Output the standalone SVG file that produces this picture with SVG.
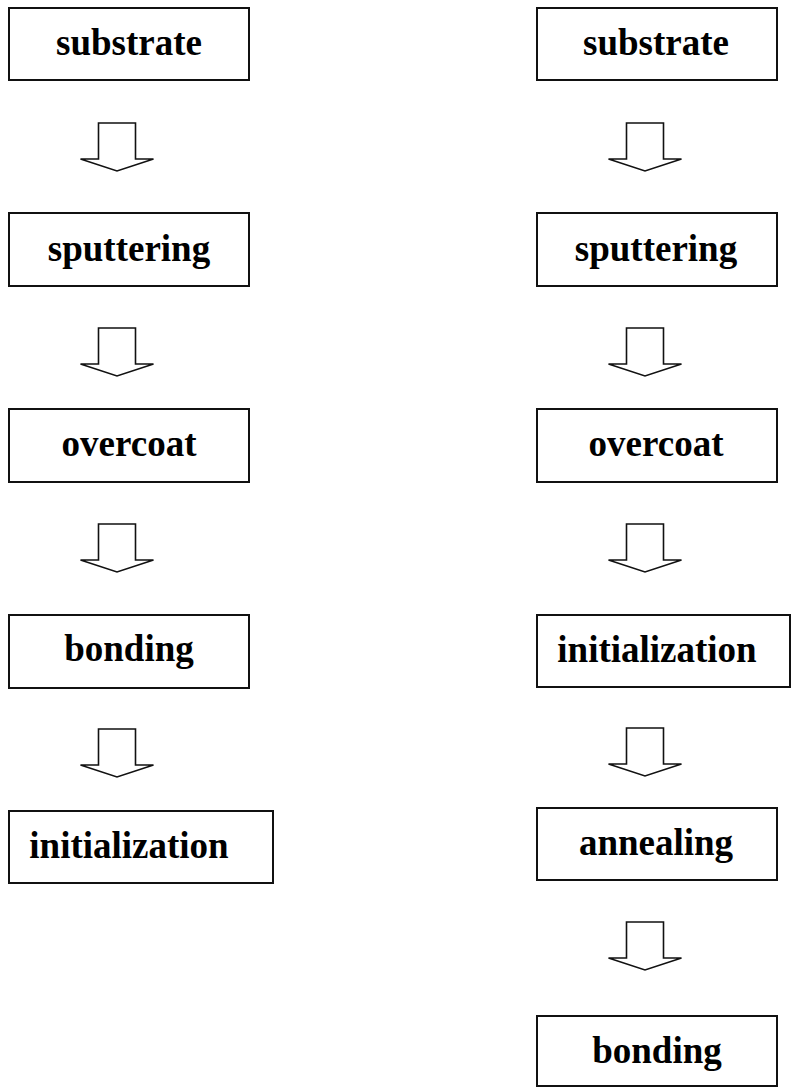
<svg xmlns="http://www.w3.org/2000/svg" xmlns:xlink="http://www.w3.org/1999/xlink" width="791" height="1088" viewBox="0 0 791 1088">
<style>
.box{fill:#fff;stroke:#111;stroke-width:2}
.lbl{font-family:"Liberation Serif","Times New Roman",serif;font-weight:bold;font-size:37px;fill:#000;text-anchor:middle}
.arr{fill:#fff;stroke:#111;stroke-width:1.6;stroke-linejoin:miter}
</style>
<defs>
<path id="bigArrow" class="arr" d="M-18.5,0 H18.5 V36 H36.5 L0,48 L-36.5,36 H-18.5 Z"/>
</defs>
<rect width="791" height="1088" fill="#fff"/>
<g id="connectors">
<use xlink:href="#bigArrow" x="117" y="123"/>
<use xlink:href="#bigArrow" x="117" y="328"/>
<use xlink:href="#bigArrow" x="117" y="524"/>
<use xlink:href="#bigArrow" x="117" y="729"/>
<use xlink:href="#bigArrow" x="645" y="123"/>
<use xlink:href="#bigArrow" x="645" y="328"/>
<use xlink:href="#bigArrow" x="645" y="524"/>
<use xlink:href="#bigArrow" x="645" y="728"/>
<use xlink:href="#bigArrow" x="645" y="922"/>
</g>
<g id="L-substrate"><rect class="box" x="9" y="8" width="240" height="72"/><text class="lbl" x="129" y="55">substrate</text></g>
<g id="L-sputtering"><rect class="box" x="9" y="213" width="240" height="73"/><text class="lbl" x="129" y="261">sputtering</text></g>
<g id="L-overcoat"><rect class="box" x="9" y="409" width="240" height="73"/><text class="lbl" x="129" y="456">overcoat</text></g>
<g id="L-bonding"><rect class="box" x="9" y="615" width="240" height="73"/><text class="lbl" x="129" y="661">bonding</text></g>
<g id="L-initialization"><rect class="box" x="9" y="811" width="264" height="72"/><text class="lbl" x="129" y="858">initialization</text></g>
<g id="R-substrate"><rect class="box" x="537" y="8" width="240" height="72"/><text class="lbl" x="656" y="55">substrate</text></g>
<g id="R-sputtering"><rect class="box" x="537" y="213" width="240" height="73"/><text class="lbl" x="656" y="261">sputtering</text></g>
<g id="R-overcoat"><rect class="box" x="537" y="409" width="240" height="73"/><text class="lbl" x="656" y="456">overcoat</text></g>
<g id="R-initialization"><rect class="box" x="537" y="615" width="253" height="72"/><text class="lbl" x="657" y="662">initialization</text></g>
<g id="R-annealing"><rect class="box" x="537" y="808" width="240" height="72"/><text class="lbl" x="656" y="855">annealing</text></g>
<g id="R-bonding"><rect class="box" x="537" y="1016" width="240" height="70"/><text class="lbl" x="657" y="1063">bonding</text></g>
</svg>
